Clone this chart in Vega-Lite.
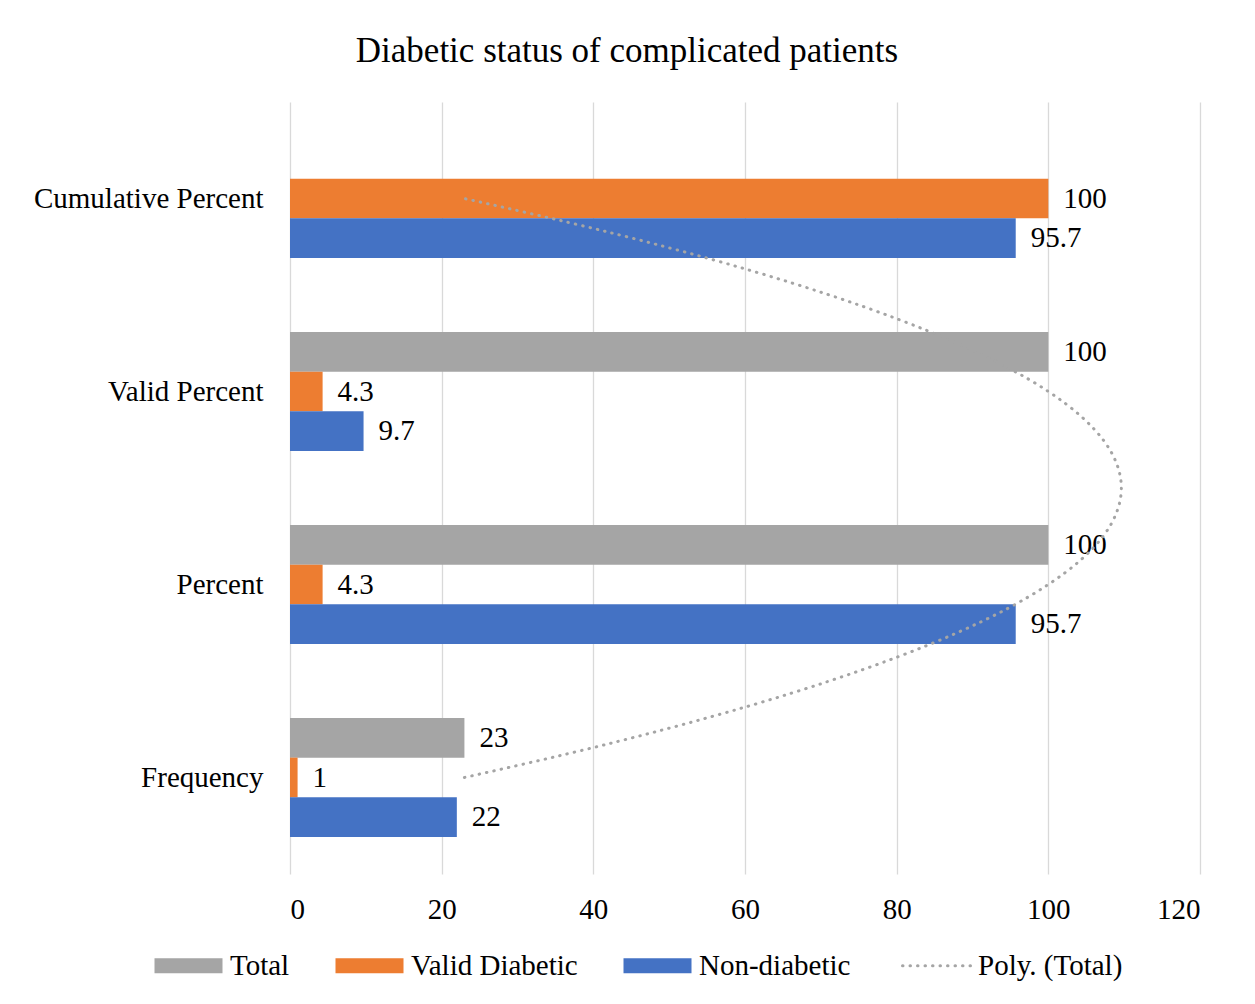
{
  "$schema": "https://vega.github.io/schema/vega-lite/v6.json",
  "width": 910,
  "height": 772,
  "autosize": {"type": "none"},
  "padding": {"left": 290, "top": 102, "right": 55, "bottom": 130},
  "background": "white",
  "title": {
    "text": "Diabetic status of complicated patients",
    "font": "Liberation Serif",
    "fontSize": 35,
    "fontWeight": "normal",
    "color": "#000000",
    "anchor": "middle",
    "frame": "group",
    "dx": -118,
    "baseline": "alphabetic",
    "offset": 5
  },
  "config": {
    "view": {"stroke": null}
  },
  "datasets": {
    "bars": [
      {"category": "Cumulative Percent", "series": "Valid Diabetic", "value": 100},
      {"category": "Cumulative Percent", "series": "Non-diabetic", "value": 95.7},
      {"category": "Valid Percent", "series": "Total", "value": 100},
      {"category": "Valid Percent", "series": "Valid Diabetic", "value": 4.3},
      {"category": "Valid Percent", "series": "Non-diabetic", "value": 9.7},
      {"category": "Percent", "series": "Total", "value": 100},
      {"category": "Percent", "series": "Valid Diabetic", "value": 4.3},
      {"category": "Percent", "series": "Non-diabetic", "value": 95.7},
      {"category": "Frequency", "series": "Total", "value": 23},
      {"category": "Frequency", "series": "Valid Diabetic", "value": 1},
      {"category": "Frequency", "series": "Non-diabetic", "value": 22}
    ],
    "trend": [
      {"t": 1.0, "value": 23.0},
      {"t": 1.125, "value": 36.84},
      {"t": 1.25, "value": 49.47},
      {"t": 1.375, "value": 60.9},
      {"t": 1.5, "value": 71.13},
      {"t": 1.625, "value": 80.15},
      {"t": 1.75, "value": 87.97},
      {"t": 1.875, "value": 94.59},
      {"t": 2.0, "value": 100.0},
      {"t": 2.125, "value": 104.21},
      {"t": 2.25, "value": 107.22},
      {"t": 2.375, "value": 109.02},
      {"t": 2.5, "value": 109.63},
      {"t": 2.625, "value": 109.02},
      {"t": 2.75, "value": 107.22},
      {"t": 2.875, "value": 104.21},
      {"t": 3.0, "value": 100.0},
      {"t": 3.125, "value": 94.59},
      {"t": 3.25, "value": 87.97},
      {"t": 3.375, "value": 80.15},
      {"t": 3.5, "value": 71.13},
      {"t": 3.625, "value": 60.9},
      {"t": 3.75, "value": 49.47},
      {"t": 3.875, "value": 36.84},
      {"t": 4.0, "value": 23.0}
    ]
  },
  "layer": [
    {
      "data": {"name": "bars"},
      "encoding": {
        "y": {
          "field": "category",
          "type": "nominal",
          "scale": {"domain": ["Cumulative Percent", "Valid Percent", "Percent", "Frequency"], "paddingInner": 0, "paddingOuter": 0},
          "axis": {
            "title": null,
            "domain": false,
            "ticks": false,
            "tickSize": 0,
            "grid": false,
            "labelPadding": 27,
            "labelLimit": 0,
            "labelFont": "Liberation Serif",
            "labelFontSize": 29,
            "labelColor": "#000000"
          }
        },
        "yOffset": {
          "field": "series",
          "scale": {"domain": ["Total", "Valid Diabetic", "Non-diabetic"], "paddingInner": 0, "paddingOuter": 0.93}
        },
        "x": {
          "field": "value", "type": "quantitative", "scale": {"domain": [0, 120]},
          "axis": {
            "values": [0, 20, 40, 60, 80, 100, 120],
            "grid": true, "gridColor": "#d9d9d9", "gridWidth": 1.3,
            "domain": false, "ticks": false, "tickSize": 0, "labelPadding": 21,
            "labelFont": "Liberation Serif", "labelFontSize": 29, "labelColor": "#000000", "title": null
          }
        }
      },
      "layer": [
        {
          "mark": {"type": "bar"},
          "encoding": {
            "color": {
              "field": "series",
              "type": "nominal",
              "scale": {
                "domain": ["Total", "Valid Diabetic", "Non-diabetic", "Poly. (Total)"],
                "range": ["#a5a5a5", "#ed7d31", "#4472c4", "#a5a5a5"]
              },
              "legend": {
                "orient": "none",
                "legendX": -135,
                "legendY": 849,
                "direction": "horizontal",
                "columns": 4,
                "title": null,
                "labelFont": "Liberation Serif",
                "labelFontSize": 29,
                "labelColor": "#000000",
                "labelLimit": 0,
                "symbolType": "M-1,-0.22H1V0.22H-1Z",
                "symbolSize": 4624,
                "symbolOffset": 19,
                "labelOffset": 27,
                "columnPadding": 45,
                "symbolStrokeWidth": 0,
                "encode": {
                  "symbols": {
                    "update": {
                      "shape": {"signal": "datum.value === 'Poly. (Total)' ? 'stroke' : 'M-1,-0.22H1V0.22H-1Z'"},
                      "stroke": {"signal": "datum.value === 'Poly. (Total)' ? '#a5a5a5' : 'transparent'"},
                      "strokeWidth": {"signal": "datum.value === 'Poly. (Total)' ? 3 : 0"},
                      "strokeCap": {"signal": "'round'"},
                      "strokeDash": {"signal": "datum.value === 'Poly. (Total)' ? [0.5, 7] : [1, 0]"}
                    }
                  }
                }
              }
            }
          }
        },
        {
          "mark": {"type": "text", "align": "left", "baseline": "middle", "dx": 15, "font": "Liberation Serif", "fontSize": 29, "color": "#000000"},
          "encoding": {
            "text": {"field": "value", "type": "quantitative"}
          }
        }
      ]
    },
    {
      "data": {"name": "trend"},
      "mark": {"type": "line", "stroke": "#a5a5a5", "strokeWidth": 3, "strokeCap": "round", "strokeDash": [0.5, 7], "interpolate": "natural"},
      "encoding": {
        "x": {
          "field": "value", "type": "quantitative", "scale": {"domain": [0, 120]},
          "axis": {
            "values": [0, 20, 40, 60, 80, 100, 120],
            "grid": true, "gridColor": "#d9d9d9", "gridWidth": 1.3,
            "domain": false, "ticks": false, "tickSize": 0, "labelPadding": 21,
            "labelFont": "Liberation Serif", "labelFontSize": 29, "labelColor": "#000000", "title": null
          }
        },
        "y": {"field": "t", "type": "quantitative", "scale": {"domain": [0.5, 4.5]}, "axis": null},
        "order": {"field": "t", "type": "quantitative"}
      }
    }
  ],
  "resolve": {"scale": {"y": "independent"}}
}
